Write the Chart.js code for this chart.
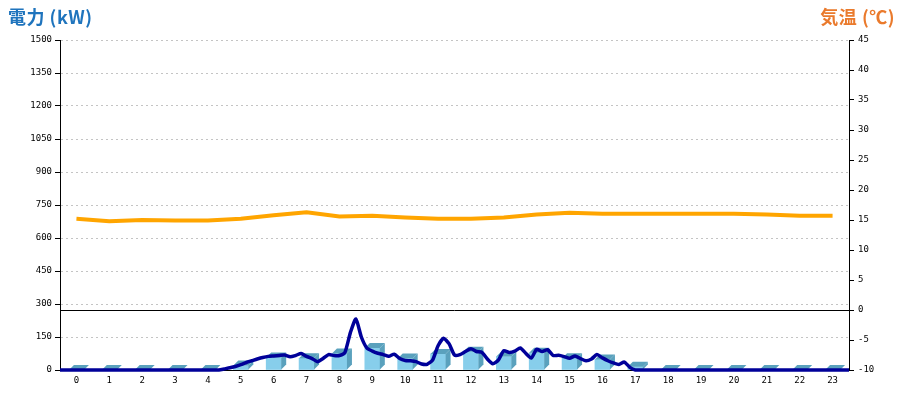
<!DOCTYPE html>
<html>
<head>
<meta charset="utf-8">
<script src="https://cdn.jsdelivr.net/npm/chart.js@4/dist/chart.umd.min.js"></script>
<style>
  html, body { margin: 0; padding: 0; background: #fff; }
  #wrap { position: relative; width: 900px; height: 400px; }
  .ttl { position: absolute; top: 4px; font-family: "Noto Sans CJK JP", sans-serif; font-weight: bold; font-size: 18px; line-height: 24px; letter-spacing: 0.5px; }
  #ttlL { left: 8px; color: #1f74bd; }
  #ttlR { right: 5px; color: #ea7a2c; }
</style>
</head>
<body>
<div id="wrap">
  <canvas id="powerChart" width="900" height="400"></canvas>
  <div class="ttl" id="ttlL">電力 (kW)</div>
  <div class="ttl" id="ttlR">気温 (℃)</div>
</div>
<script>
// 時間ラベル (0〜23時)
const hours = ['0','1','2','3','4','5','6','7','8','9','10','11','12','13','14','15','16','17','18','19','20','21','22','23'];

// 1時間ごとの電力量 (kW) - 棒グラフ
const hourlyPower = [0, 0, 0, 0, 0, 20, 57, 53, 75, 100, 52, 73, 83, 61, 78, 53, 48, 15, 0, 0, 0, 0, 0, 0];

// 1時間ごとの気温 (℃)
const temperature = [15.2, 14.8, 15.0, 14.9, 14.9, 15.2, 15.8, 16.3, 15.6, 15.7, 15.4, 15.2,
                     15.2, 15.4, 15.9, 16.2, 16.05, 16.05, 16.05, 16.05, 16.05, 15.9, 15.7, 15.7];

// 10分ごとの電力 (kW) 0:00〜24:00
const powerStepMin = 10;
const powerValues = [
  0, 0, 0, 0, 0, 0, 0, 0, 0, 0, 0, 0,          // 0-1時
  0, 0, 0, 0, 0, 0, 0, 0, 0, 0, 0, 0,          // 2-3時
  0, 0, 0, 0, 0, 0,                            // 4時
  5, 10, 16, 24, 34, 42,                       // 5時
  50, 57, 62, 64, 66, 68,                      // 6時
  60, 66, 75, 62, 52, 38,                      // 7時
  52, 70, 66, 66, 80, 170,                     // 8時
  232, 150, 100, 86, 76, 70,                   // 9時
  62, 72, 52, 43, 42, 38,                      // 10時
  27, 26, 45, 110, 144, 120,                   // 11時
  68, 70, 84, 97, 84, 80,                      // 12時
  50, 28, 45, 88, 80, 86,                      // 13時
  100, 76, 54, 94, 84, 92,                     // 14時
  66, 67, 61, 53, 64, 52,                      // 15時
  42, 50, 70, 55, 42, 32,                      // 16時
  25, 36, 12, 0, 0, 0,                         // 17時
  0, 0, 0, 0, 0, 0, 0, 0, 0, 0, 0, 0,          // 18-19時
  0, 0, 0, 0, 0, 0, 0, 0, 0, 0, 0, 0,          // 20-21時
  0, 0, 0, 0, 0, 0, 0, 0, 0, 0, 0, 0,          // 22-23時
  0
];

const tickFont = { family: 'DejaVu Sans Mono', size: 9 };

// 棒グラフを立体っぽく見せる (上面と側面)
const bar3d = {
  id: 'bar3d',
  afterDatasetDraw(chart, args) {
    if (args.meta.type !== 'bar') return;
    const ctx = chart.ctx;
    const d = 5;
    ctx.save();
    ctx.fillStyle = '#5aa1bd';
    args.meta.data.forEach(el => {
      const p = el.getProps(['x', 'y', 'base', 'width'], true);
      const l = p.x - p.width / 2, r = p.x + p.width / 2;
      ctx.beginPath();
      ctx.moveTo(l, p.y); ctx.lineTo(r, p.y);
      ctx.lineTo(r + d, p.y - d); ctx.lineTo(l + d, p.y - d);
      ctx.closePath(); ctx.fill();
      if (p.base - p.y > 0.5) {
        ctx.beginPath();
        ctx.moveTo(r, p.y); ctx.lineTo(r + d, p.y - d);
        ctx.lineTo(r + d, p.base - d); ctx.lineTo(r, p.base);
        ctx.closePath(); ctx.fill();
      }
    });
    ctx.restore();
  }
};

const powerPoints = powerValues.map((v, i) => ({ x: i * powerStepMin / 60, y: v }));

new Chart(document.getElementById('powerChart').getContext('2d'), {
  data: {
    labels: hours,
    datasets: [
      {
        type: 'line',
        label: '電力',
        data: powerPoints,
        xAxisID: 'xt',
        yAxisID: 'y',
        borderColor: '#000099',
        borderWidth: 3.5,
        pointRadius: 0,
        tension: 0.2,
        clip: false,
        order: 1
      },
      {
        type: 'line',
        label: '気温',
        data: temperature,
        xAxisID: 'x',
        yAxisID: 'y1',
        borderColor: '#ffa500',
        borderWidth: 4,
        pointRadius: 0,
        tension: 0,
        order: 2
      },
      {
        type: 'bar',
        label: '電力量',
        data: hourlyPower,
        xAxisID: 'x',
        yAxisID: 'y',
        backgroundColor: '#87ceeb',
        barThickness: 15,
        grouped: false,
        order: 3
      }
    ]
  },
  options: {
    responsive: false,
    animation: false,
    layout: { padding: { top: 40, left: 0, right: 0, bottom: 0 } },
    plugins: { legend: { display: false }, tooltip: { enabled: false } },
    scales: {
      x: {
        type: 'category',
        offset: true,
        grid: { display: false, drawTicks: false },
        border: { display: true, color: '#000' },
        ticks: { color: '#000', font: tickFont, padding: 5, maxRotation: 0, autoSkip: false },
        afterFit: s => { s.height = 30; }
      },
      xt: {
        type: 'linear',
        display: false,
        min: 0,
        max: 24
      },
      y: {
        position: 'left',
        min: 0,
        max: 1500,
        grid: { color: '#c4c4c4', tickColor: '#000', tickLength: 5 },
        border: { display: true, color: '#000', dash: [2, 3] },
        ticks: { stepSize: 150, color: '#000', font: tickFont, padding: 3, callback: v => String(v) },
        afterFit: s => { s.width = 60; }
      },
      y1: {
        position: 'right',
        min: -10,
        max: 45,
        grid: {
          color: c => (c.tick && c.tick.value === 0 ? '#000' : 'rgba(0,0,0,0)'),
          tickColor: '#000',
          tickLength: 5
        },
        border: { display: true, color: '#000' },
        ticks: { stepSize: 5, color: '#000', font: tickFont, padding: 4, callback: v => String(v) },
        afterFit: s => { s.width = 51; }
      }
    }
  },
  plugins: [bar3d]
});
</script>
</body>
</html>
